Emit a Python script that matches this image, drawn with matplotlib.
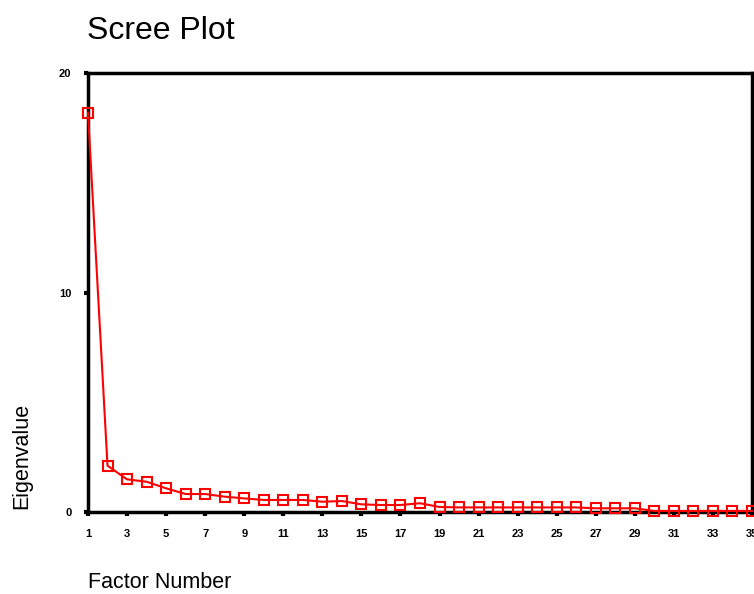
import matplotlib.pyplot as plt

plt.rcParams['font.family'] = ['Liberation Sans', 'DejaVu Sans']

# eigenvalues
factors = list(range(1, 36))
eigenvalues = [18.2, 2.11, 1.49, 1.38, 1.08, 0.82, 0.82, 0.70, 0.62, 0.55,
               0.55, 0.55, 0.47, 0.50, 0.35, 0.32, 0.32, 0.40, 0.23, 0.21,
               0.21, 0.21, 0.21, 0.21, 0.21, 0.21, 0.17, 0.17, 0.17, 0.05,
               0.05, 0.05, 0.05, 0.05, 0.05]
x_ticks = list(range(1, 36, 2))
y_ticks = [0, 10, 20]

fig = plt.figure(figsize=(7.54, 5.94), dpi=100)
ax = fig.add_axes([0.1167, 0.138, 0.8806, 0.739])

ax.plot(factors, eigenvalues, color='red', linewidth=1.5,
        marker='s', markersize=7.5, markerfacecolor='none',
        markeredgecolor='red', markeredgewidth=1.5, clip_on=False, zorder=3)

ax.set_xlim(1, 35)
ax.set_ylim(0, 20)
ax.set_xticks(x_ticks)
ax.set_yticks(y_ticks)
ax.tick_params(direction='out', length=3, width=3, labelsize=8, pad=9)
for lbl in ax.get_xticklabels() + ax.get_yticklabels():
    lbl.set_fontweight('bold')
for s in ax.spines.values():
    s.set_linewidth(2.5)
    s.set_color('black')

fig.text(0.116, 1 - 31 / 594, 'Scree Plot', fontsize=23, va='center', ha='left')
fig.text(22 / 754, 1 - 456 / 594, 'Eigenvalue', fontsize=15.5, rotation=90,
         va='center', ha='center')
fig.text(88 / 754, 1 - 583 / 594, 'Factor Number', fontsize=15.5,
         va='center', ha='left')

fig.savefig('out.png', dpi=100)
